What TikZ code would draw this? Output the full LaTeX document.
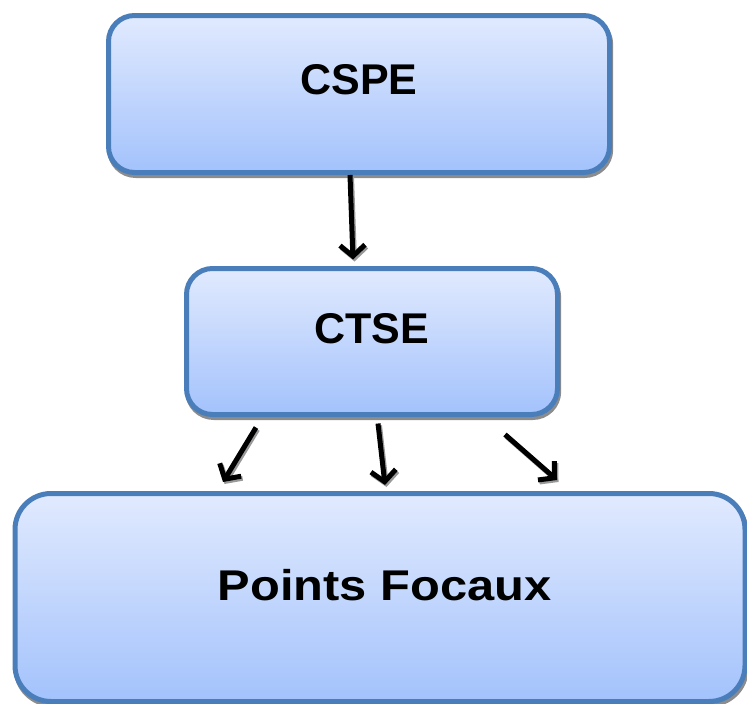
\documentclass[tikz,border=0pt]{standalone}
\usepackage{fontspec}
\usepackage{graphicx}
\setmainfont{Liberation Sans}
\usetikzlibrary{arrows.meta,shadows,calc}
\definecolor{bord}{HTML}{4A7EBB}
\definecolor{topc}{HTML}{E1EAFE}
\definecolor{botc}{HTML}{A3C2FC}
\tikzset{
 box/.style={draw=bord, line width=5pt, rounded corners=#1, top color=topc, bottom color=botc,
   drop shadow={shadow xshift=1.2pt, shadow yshift=-3pt, fill=black!45, draw=black!45, line width=5pt, opacity=1},
   font=\fontsize{43}{50}\selectfont\bfseries, inner sep=0pt},
 conn/.style={line width=5pt, -{Straight Barb[length=11pt,width=25pt]}},
 connshadow/.style={conn, draw=black!40, transform canvas={shift={(1.5pt,-2pt)}}},
}
\newcommand{\linkarrow}[2]{%
  \draw[connshadow] #1 -- #2;
  \draw[conn] #1 -- #2;}
\begin{document}
\begin{tikzpicture}[x=1pt,y=-1pt]
\useasboundingbox (0,0) rectangle (747,704);
\node[box=26pt, minimum width=501pt, minimum height=157pt, text height=30pt, text depth=30pt] (cspe) at (359,94) {CSPE};
\node[box=26pt, minimum width=371pt, minimum height=146pt, text height=31pt, text depth=28pt] (ctse) at (372,341.5) {CTSE};
\node[box=36pt, minimum width=730pt, minimum height=208pt, text height=33pt, text depth=27pt] (pf) at (380,597.5) {\hspace*{9pt}\scalebox{1.135}[1]{Points Focaux}};
\linkarrow{([shift={(-9,0)}]cspe.south)}{([shift={(-19,-6.5)}]ctse.north)}
\linkarrow{([shift={(-116,10.5)}]ctse.south)}{([shift={(-157,-9)}]pf.north)}
\linkarrow{([shift={(6,6.5)}]ctse.south)}{([shift={(5,-6)}]pf.north)}
\linkarrow{([shift={(133,17.5)}]ctse.south)}{([shift={(177,-11)}]pf.north)}
\end{tikzpicture}
\end{document}
